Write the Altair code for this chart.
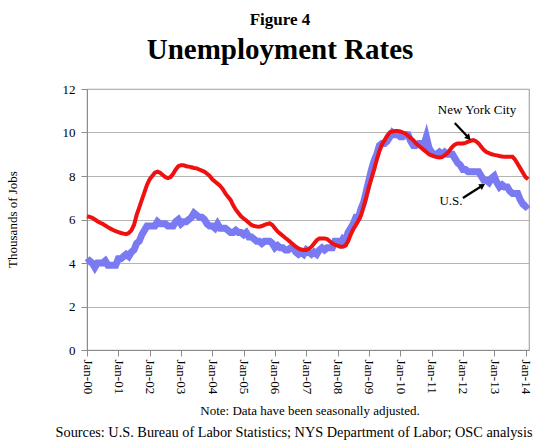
import altair as alt
import pandas as pd

FONT = "Liberation Serif"

# Monthly unemployment rates, Jan-2000 .. Feb-2014
us = [
    4.0, 4.1, 4.0, 3.8, 4.0, 4.0, 4.0, 4.1, 3.9, 3.9, 3.9, 3.9,
    4.2, 4.2, 4.3, 4.4, 4.3, 4.5, 4.6, 4.9, 5.0, 5.3, 5.5, 5.7,
    5.7, 5.7, 5.7, 5.9, 5.8, 5.8, 5.8, 5.7, 5.7, 5.7, 5.9, 6.0,
    5.8, 5.9, 5.9, 6.0, 6.1, 6.3, 6.2, 6.1, 6.1, 6.0, 5.8, 5.7,
    5.7, 5.6, 5.8, 5.6, 5.6, 5.6, 5.5, 5.4, 5.4, 5.5, 5.4, 5.4,
    5.3, 5.4, 5.2, 5.2, 5.1, 5.0, 5.0, 4.9, 5.0, 5.0, 5.0, 4.9,
    4.7, 4.8, 4.7, 4.7, 4.6, 4.6, 4.7, 4.7, 4.5, 4.4, 4.5, 4.4,
    4.6, 4.5, 4.4, 4.5, 4.4, 4.6, 4.7, 4.6, 4.7, 4.7, 4.7, 5.0,
    5.0, 4.9, 5.1, 5.0, 5.4, 5.6, 5.8, 6.1, 6.1, 6.5, 6.8, 7.3,
    7.8, 8.3, 8.7, 9.0, 9.4, 9.5, 9.5, 9.6, 9.8, 10.0, 9.9, 9.9,
    9.8, 9.8, 9.9, 9.9, 9.6, 9.4, 9.4, 9.5, 9.5, 9.4, 9.8, 9.3,
    9.1, 9.0, 9.0, 9.1, 9.0, 9.1, 9.0, 9.0, 9.0, 8.8, 8.6, 8.5,
    8.3, 8.3, 8.2, 8.2, 8.2, 8.2, 8.2, 8.0, 7.8, 7.8, 7.7, 7.9,
    8.0, 7.7, 7.5, 7.6, 7.5, 7.5, 7.3, 7.2, 7.2, 7.2, 6.9, 6.7,
    6.6, 6.7,
]
nyc = [
    6.15, 6.12, 6.08, 6.0, 5.92, 5.85, 5.8, 5.72, 5.65, 5.58, 5.52, 5.46,
    5.42, 5.38, 5.35, 5.33, 5.38, 5.5, 5.75, 6.2, 6.55, 6.9, 7.25, 7.6,
    7.85, 8.0, 8.15, 8.2, 8.15, 8.05, 7.95, 7.9, 7.95, 8.1, 8.3, 8.45,
    8.5, 8.5, 8.45, 8.43, 8.4, 8.37, 8.35, 8.3, 8.25, 8.2, 8.1, 8.0,
    7.85, 7.75, 7.65, 7.55, 7.4, 7.2, 7.05, 6.9, 6.65, 6.45, 6.3, 6.15,
    6.05, 5.95, 5.85, 5.75, 5.7, 5.68, 5.67, 5.7, 5.75, 5.8, 5.82, 5.75,
    5.6, 5.45, 5.35, 5.25, 5.15, 5.06, 4.95, 4.85, 4.75, 4.67, 4.62, 4.6,
    4.6, 4.65, 4.75, 4.9, 5.05, 5.13, 5.13, 5.13, 5.1, 5.0, 4.9, 4.83,
    4.8, 4.75, 4.75, 4.8, 5.0, 5.3, 5.55, 5.75, 5.95, 6.2, 6.6, 7.05,
    7.5, 7.9, 8.3, 8.75, 9.15, 9.45, 9.65, 9.85, 10.0, 10.05, 10.07, 10.07,
    10.05, 10.0, 9.95, 9.85, 9.75, 9.65, 9.5, 9.4, 9.3, 9.2, 9.1, 9.0,
    8.95, 8.9, 8.87, 8.85, 8.87, 8.95, 9.05, 9.2, 9.35, 9.45, 9.5, 9.5,
    9.5, 9.52, 9.58, 9.62, 9.65, 9.6, 9.5, 9.35, 9.2, 9.1, 9.05, 9.0,
    8.97, 8.95, 8.92, 8.9, 8.88, 8.88, 8.88, 8.88, 8.75, 8.55, 8.35, 8.15,
    7.95, 7.85,
]
start_year = 2000
tick_years = list(range(2000, 2015))
y_ticks = [0, 2, 4, 6, 8, 10, 12]

# annotation labels and arrows (data coordinates)
ann_labels = ["New York City", "U.S."]
ann_t = [2012.45, 2011.62]
ann_rate = [11.03, 6.85]
arrow_t0 = [2011.74, 2012.0]
arrow_r0 = [10.44, 6.99]
arrow_t1 = [2012.16, 2012.6]
arrow_r1 = [9.79, 7.54]
arrow_angle = [137, 58]

n = len(us)
t = [start_year + i / 12 for i in range(n)]
df_us = pd.DataFrame({"t": t, "rate": us})
df_nyc = pd.DataFrame({"t": t, "rate": nyc})
df_ann = pd.DataFrame({"t": ann_t, "rate": ann_rate, "label": ann_labels})
df_arr = pd.DataFrame({"t0": arrow_t0, "r0": arrow_r0, "t": arrow_t1,
                       "rate": arrow_r1, "angle": arrow_angle})

xscale = alt.Scale(domain=[2000, 2014.11], nice=False, zero=False)
yscale = alt.Scale(domain=[0, 12], nice=False)

xaxis = alt.Axis(
    values=tick_years,
    labelExpr="'Jan-' + substring(toString(datum.value), 2, 4)",
    labelAngle=90, grid=False, title=None, tickSize=6,
    labelFont=FONT, labelFontSize=13, labelPadding=3,
    labelOverlap=False, labelBound=False, labelFlush=False,
)
yaxis = alt.Axis(
    values=y_ticks, title="Thousands of Jobs", grid=True, tickSize=6,
    labelFont=FONT, titleFont=FONT,
    labelPadding=6, labelFontSize=13, titleFontSize=13,
    titleFontWeight="normal", titleAngle=-90, titleX=-75, titleY=130,
    titleAlign="center", titleBaseline="middle",
)


def X():
    return alt.X("t:Q", scale=xscale, axis=xaxis)


def Y():
    return alt.Y("rate:Q", scale=yscale, axis=yaxis)


us_line = alt.Chart(df_us).mark_line(color="#7A7AF3", strokeWidth=7).encode(x=X(), y=Y())
nyc_line = alt.Chart(df_nyc).mark_line(color="#F01010", strokeWidth=4).encode(x=X(), y=Y())

labels = alt.Chart(df_ann).mark_text(font=FONT, fontSize=13, color="black").encode(
    x=X(), y=Y(), text="label:N")
arrows = alt.Chart(df_arr).mark_rule(color="black", strokeWidth=2.2).encode(
    x=X(), y=Y(), x2="t0:Q", y2="r0:Q")
heads = alt.Chart(df_arr).mark_point(
    shape="triangle", filled=True, color="black", size=45, opacity=1
).encode(x=X(), y=Y(), angle=alt.Angle("angle:Q", scale=None))

foot_df = pd.DataFrame({"a": [0]})
note = alt.Chart(foot_df).mark_text(font=FONT, fontSize=13, color="black").encode(
    x=alt.value(223), y=alt.value(322),
    text=alt.value("Note: Data have been seasonally adjusted."))
src = alt.Chart(foot_df).mark_text(font=FONT, fontSize=14.3, color="black").encode(
    x=alt.value(207), y=alt.value(344),
    text=alt.value("Sources: U.S. Bureau of Labor Statistics; NYS Department of Labor; OSC analysis"))

chart = alt.layer(us_line, nyc_line, labels, arrows, heads, note, src).properties(
    width=442, height=261,
    padding={"left": 87, "top": 89, "right": 9, "bottom": 93},
    autosize=alt.AutoSizeParams(type="none"),
    title=alt.TitleParams(
        text="Figure 4", subtitle="Unemployment Rates",
        font=FONT, fontSize=17, fontWeight="bold", color="black",
        subtitleFont=FONT, subtitleFontSize=29, subtitleFontWeight="bold",
        subtitleColor="black", subtitlePadding=7,
        anchor="middle", frame="group", dx=-28, offset=17,
    ),
).configure(background="white", font=FONT).configure_axis(
    labelFont=FONT, titleFont=FONT, labelColor="black", titleColor="black",
    domainColor="#8C8C8C", tickColor="#8C8C8C", gridColor="#B4B4B4",
).configure_text(font=FONT).configure_view(stroke="#A8A8A8", strokeWidth=1.2)

chart.save("out.html", embed_options={"renderer": "svg", "actions": False})
